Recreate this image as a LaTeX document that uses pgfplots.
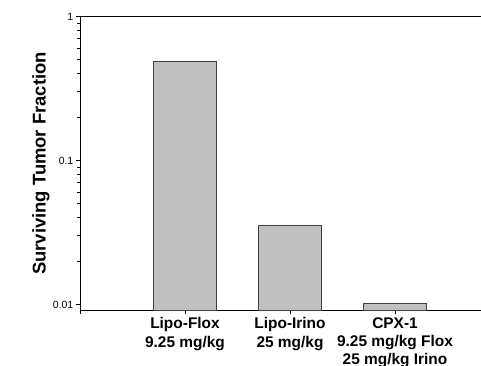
\documentclass[border=0pt]{standalone}
\usepackage{pgfplots}
\pgfplotsset{compat=1.18}
\usepackage{fontspec}
\setmainfont{Liberation Sans}
\definecolor{barfill}{RGB}{192,192,192}
\definecolor{baredge}{RGB}{64,64,64}
\begin{document}
\begin{tikzpicture}
\begin{axis}[
  name=ax,
  scale only axis,
  width=401bp, height=294bp,
  ymode=log,
  ymin=0.00908, ymax=1,
  xmin=-1, xmax=2.819,
  axis line style={black, line width=1pt},
  separate axis lines,
  axis x line*=bottom,
  axis y line*=left,
  ytick={0.01,0.1,1},
  yticklabels={0.01,0.1,1},
  yticklabel style={font=\fontsize{10.5}{12}\selectfont, inner sep=1pt, xshift=-1.5bp},
  /pgf/number format/assume math mode=true,
  minor y tick num=8,
  tick align=outside,
  major tick length=4bp,
  minor tick length=3bp,
  tick style={black, line width=0.8pt},
  xtick={-1,0,1,2},
  xticklabels={,{Lipo-Flox\\9.25 mg/kg},{Lipo-Irino\\25 mg/kg},{CPX-1\\9.25 mg/kg Flox\\25 mg/kg Irino}},
  xticklabel style={font=\bfseries\fontsize{15.5}{18.3}\selectfont, align=center, inner sep=1pt, yshift=-2bp},
  ylabel={Surviving Tumor Fraction},
  ylabel style={font=\bfseries\fontsize{18.5}{20}\selectfont, yshift=-1bp},
  ybar,
  bar width=0.607,
  log origin=infty,
  clip=false,
]
\addplot[fill=barfill, draw=baredge, line width=0.8pt] coordinates {(0,0.491) (1,0.03526) (2,0.0102)};
\end{axis}
\draw[black, line width=1pt] (ax.north west) -- (ax.north east);
\pgfresetboundingbox
\path ([shift={(-80bp,-55.5bp)}]ax.south west) rectangle ([shift={(0bp,16.5bp)}]ax.north east);
\end{tikzpicture}
\end{document}
